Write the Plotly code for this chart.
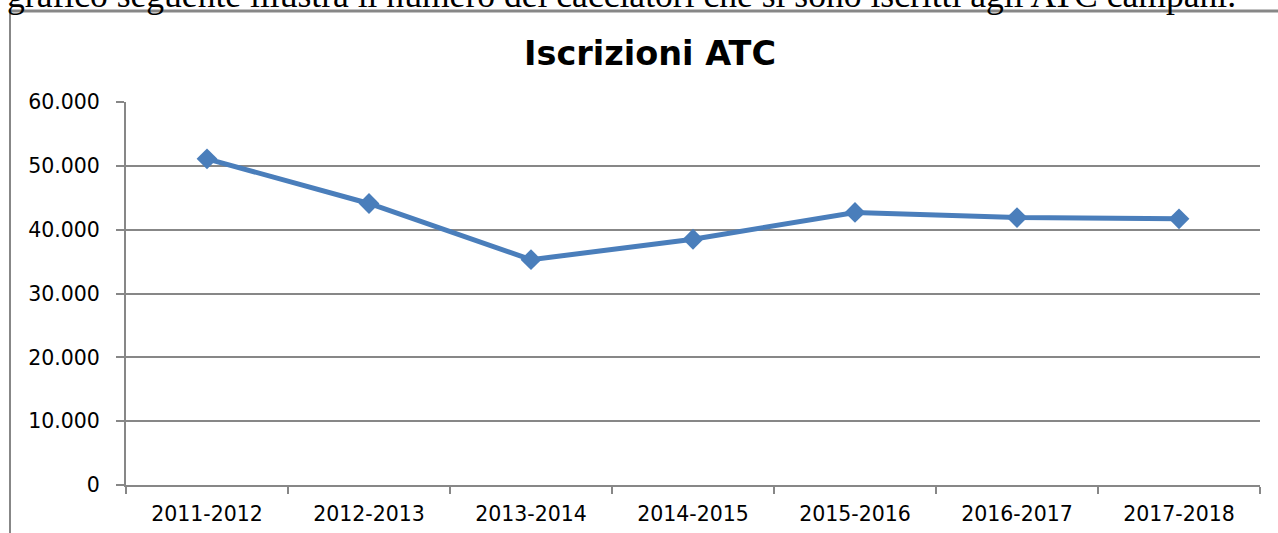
import plotly.graph_objects as go

categories = ["2011-2012", "2012-2013", "2013-2014", "2014-2015", "2015-2016", "2016-2017", "2017-2018"]
iscrizioni = [51100, 44100, 35300, 38500, 42700, 41900, 41700]
title_text = "Iscrizioni ATC"
header_text = "grafico seguente illustra il numero dei cacciatori che si sono iscritti agli ATC campani."

W, H = 1278, 533
L, R, T, B = 126, 18, 102, 48
PW, PH = W - L - R, H - T - B

def px(x):
    return (x - L) / PW

def py(y):
    return 1 + (T - y) / PH

GRAY = "#878787"

fig = go.Figure()
fig.add_trace(go.Scatter(
    x=categories, y=iscrizioni, mode="lines+markers",
    line=dict(color="#4a7ebb", width=5),
    marker=dict(symbol="diamond", size=16, color="#4a7ebb"),
    showlegend=False, hoverinfo="x+y",
))

fig.update_layout(
    width=W, height=H, autosize=False,
    margin=dict(l=L, r=R, t=T, b=B, pad=0, autoexpand=False),
    paper_bgcolor="white", plot_bgcolor="white",
    separators=",.",
    font=dict(family="DejaVu Sans", color="#000000"),
    xaxis=dict(
        type="category", range=[-0.5, 6.5], showgrid=False, automargin=False,
        showline=True, linecolor=GRAY, linewidth=2,
        ticks="outside", tickson="boundaries", ticklen=7, tickwidth=2, tickcolor=GRAY,
        tickfont=dict(size=20.5, family="DejaVu Sans", color="#000"),
        ticklabelstandoff=9,
    ),
    yaxis=dict(
        range=[0, 60000], tick0=0, dtick=10000, tickformat=",d", automargin=False,
        showgrid=True, gridcolor=GRAY, gridwidth=2,
        showline=True, linecolor=GRAY, linewidth=2,
        ticks="outside", ticklen=8, tickwidth=2, tickcolor=GRAY,
        tickfont=dict(size=20.5, family="DejaVu Sans", color="#000"),
        ticklabelstandoff=12, zeroline=False,
    ),
    annotations=[
        dict(text="<b>" + title_text + "</b>", xref="paper", yref="paper",
             x=px(649.5), y=py(53.5), xanchor="center", yanchor="middle",
             showarrow=False, font=dict(size=33.5, family="DejaVu Sans", color="#000")),
        dict(text=header_text, xref="paper", yref="paper",
             x=px(1238), y=py(-5.5), xanchor="right", yanchor="middle",
             showarrow=False, font=dict(size=35.6, family="Liberation Serif", color="#000")),
    ],
    shapes=[
        dict(type="line", xref="paper", yref="paper", x0=px(10), x1=px(10), y0=py(11), y1=py(540),
             line=dict(color=GRAY, width=2), layer="above"),
        dict(type="line", xref="paper", yref="paper", x0=px(10), x1=px(1290), y0=py(11), y1=py(11),
             line=dict(color=GRAY, width=3), layer="above"),
    ],
)

fig.write_html(
    "out.html",
    config={"displayModeBar": False},
    post_script="document.body.style.margin='0';document.body.style.overflow='hidden';",
)
